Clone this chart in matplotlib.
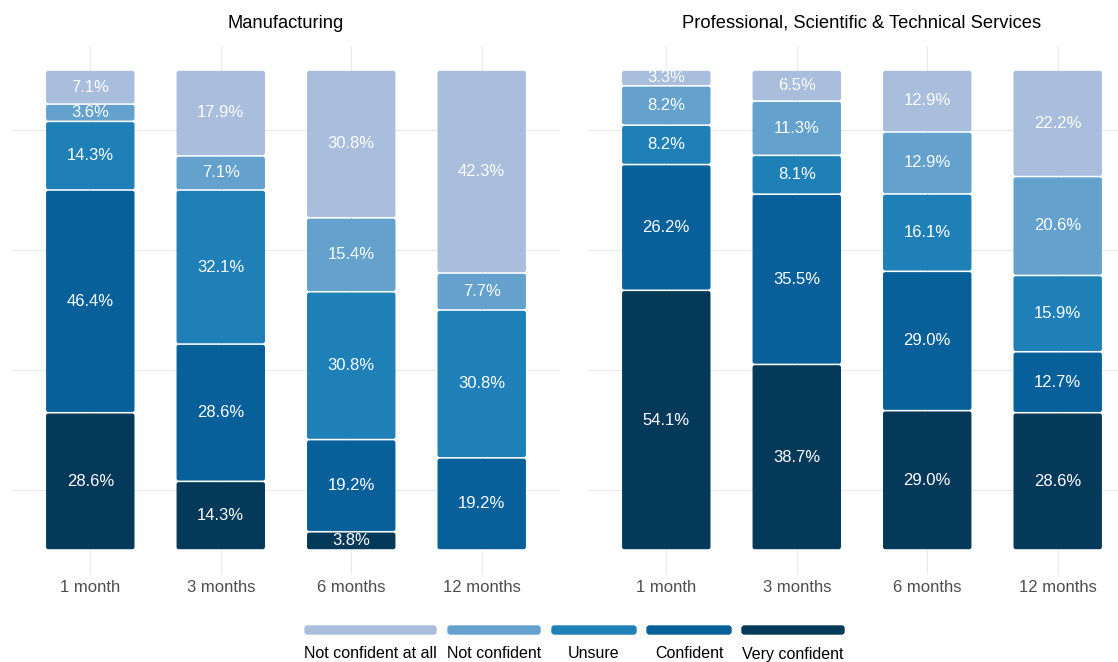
import matplotlib
matplotlib.use("Agg")
import matplotlib.pyplot as plt
from matplotlib.patches import FancyBboxPatch
import numpy as np

plt.rcParams['font.family'] = ['Liberation Sans', 'DejaVu Sans']

periods = ["1 month", "3 months", "6 months", "12 months"]
panels = ["Manufacturing", "Professional, Scientific & Technical Services"]
levels = ["Not confident at all", "Not confident", "Unsure", "Confident", "Very confident"]
colors = ["#a9bedc", "#64a1cc", "#1f80b8", "#07609a", "#04395a"]

# values in % per period, order: Very confident, Confident, Unsure, Not confident, Not confident at all
manu_very = [28.6, 14.3, 3.8, 0.0]
manu_conf = [46.4, 28.6, 19.2, 19.2]
manu_unsure = [14.3, 32.1, 30.8, 30.8]
manu_notconf = [3.6, 7.1, 15.4, 7.7]
manu_notatall = [7.1, 17.9, 30.8, 42.3]

prof_very = [54.1, 38.7, 29.0, 28.6]
prof_conf = [26.2, 35.5, 29.0, 12.7]
prof_unsure = [8.2, 8.1, 16.1, 15.9]
prof_notconf = [8.2, 11.3, 12.9, 20.6]
prof_notatall = [3.3, 6.5, 12.9, 22.2]

data = {
    panels[0]: [manu_very, manu_conf, manu_unsure, manu_notconf, manu_notatall],
    panels[1]: [prof_very, prof_conf, prof_unsure, prof_notconf, prof_notatall],
}
stack_colors = colors[::-1]  # bottom to top

W, H = 1118, 662
fig = plt.figure(figsize=(W / 100, H / 100), dpi=100)

ax_lefts = [12, 588]
ax_w = 548
ax_h = 528
for p, left in zip(panels, ax_lefts):
    ax = fig.add_axes([left / W, (H - 574) / H, ax_w / W, ax_h / H])
    vals = np.array(data[p], dtype=float)
    totals = vals.sum(axis=0)
    props = vals / totals
    x = np.arange(len(periods))
    ax.set_xlim(-0.6, 3.6)
    ax.set_ylim(-0.05, 1.05)
    px_x = ax_w / 4.2       # pixels per x unit
    px_y = ax_h / 1.10      # pixels per y unit
    bottom = np.zeros(len(periods))
    for i in range(vals.shape[0]):
        bars = ax.bar(x, props[i], 0.69, bottom=bottom, color=stack_colors[i],
                      edgecolor="white", linewidth=1.0, zorder=2)
        for r in bars.patches:
            if r.get_height() <= 0:
                continue
            r.set_visible(False)
            gap_x = 0.8 / px_x
            gap_y = 0.8 / px_y
            fb = FancyBboxPatch((r.get_x() + gap_x, r.get_y() + gap_y),
                                r.get_width() - 2 * gap_x, r.get_height() - 2 * gap_y,
                                boxstyle="round,pad=0,rounding_size=%f" % (2.2 / px_x),
                                mutation_aspect=px_x / px_y,
                                facecolor=stack_colors[i], edgecolor="none", zorder=2)
            ax.add_patch(fb)
        for j in range(len(periods)):
            if vals[i, j] > 0:
                ax.text(x[j], bottom[j] + props[i, j] / 2, f"{vals[i, j]:.1f}%",
                        ha="center", va="center", color="white", fontsize=12, zorder=3)
        bottom += props[i]
    for gy in [0.125, 0.375, 0.625, 0.875]:
        ax.axhline(gy, color="#ebebeb", linewidth=0.9, zorder=0)
    for gx in x:
        ax.axvline(gx, color="#ebebeb", linewidth=0.9, zorder=0)
    ax.set_xticks(x)
    ax.set_xticklabels(periods, fontsize=12, color="#4d4d4d")
    ax.tick_params(axis="x", length=0, pad=4)
    ax.set_yticks([])
    for s in ax.spines.values():
        s.set_visible(False)
    ax.set_title(p, fontsize=13.2, color="black", pad=13)

# legend
lax = fig.add_axes([0, 0, 1, 1])
lax.set_xlim(0, W)
lax.set_ylim(H, 0)
lax.axis("off")
key_spans = [(304, 437), (447, 541), (551, 637), (646, 732), (741, 845)]
for (x0, x1), lab, c in zip(key_spans, levels, colors):
    lax.add_patch(FancyBboxPatch((x0 + 1, 626), x1 - x0 - 2, 8,
                                 boxstyle="round,pad=0,rounding_size=2.5",
                                 facecolor=c, edgecolor=c, linewidth=1))
    lax.text((x0 + x1) / 2, 658.5, lab, ha="center", va="baseline", fontsize=11.5, color="black")

fig.savefig("out.png", dpi=100, facecolor="white")
